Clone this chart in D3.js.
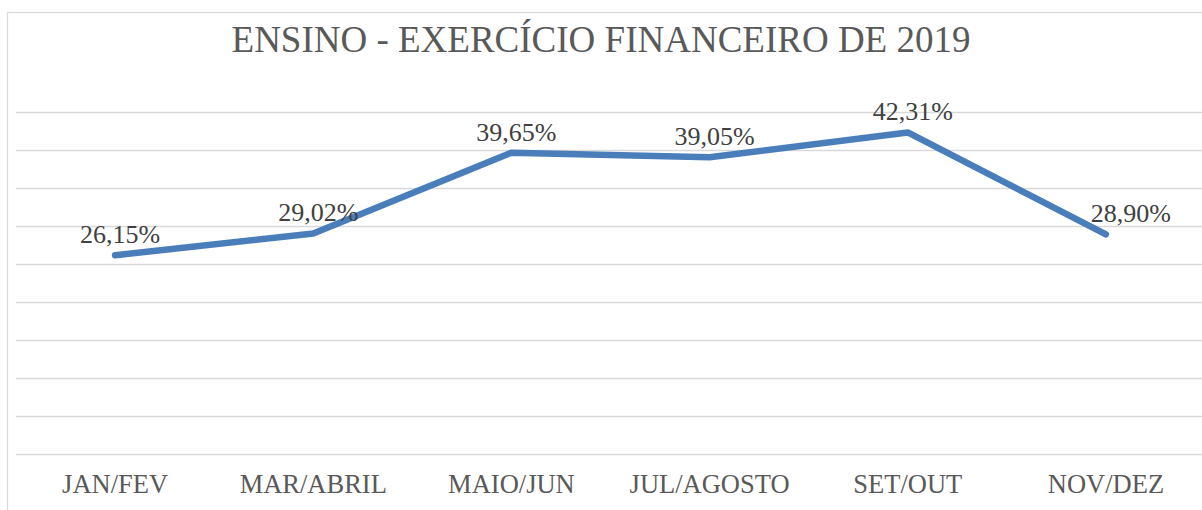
<!DOCTYPE html>
<html>
<head>
<meta charset="utf-8">
<script src="https://cdn.jsdelivr.net/npm/d3@7"></script>
<style>
  html, body { margin: 0; padding: 0; background: #fff; }
  svg { display: block; }
</style>
</head>
<body>
<svg id="chart"></svg>
<script>
/* Ensino – exercício financeiro de 2019, single line chart */

const TITLE      = 'ENSINO - EXERCÍCIO FINANCEIRO DE 2019';
const CATEGORIES = ['JAN/FEV', 'MAR/ABRIL', 'MAIO/JUN', 'JUL/AGOSTO', 'SET/OUT', 'NOV/DEZ'];
const VALUES     = [26.15, 29.02, 39.65, 39.05, 42.31, 28.90];
const Y_TICKS    = [0, 5, 10, 15, 20, 25, 30, 35, 40, 45];

const W = 1202, H = 510;
const FONT = '"Liberation Serif", "Times New Roman", serif';
const LINE_COLOR = '#4a7ebb';
const GRID_COLOR = '#d9d9d9';

const margin = { top: 112, right: -3, bottom: 56, left: 16 };
const iW = W - margin.left - margin.right;
const iH = H - margin.top - margin.bottom;

const svg = d3.select('#chart')
  .attr('width', W)
  .attr('height', H)
  .attr('viewBox', `0 0 ${W} ${H}`);

// chart frame
svg.append('rect')
  .attr('x', 7.5).attr('y', 12.5)
  .attr('width', W + 10).attr('height', H + 10)
  .attr('fill', 'none')
  .attr('stroke', GRID_COLOR)
  .attr('stroke-width', 1.3);

/* ── Title ── */
svg.append('text')
  .attr('x', W / 2)
  .attr('y', 52)
  .attr('text-anchor', 'middle')
  .attr('fill', '#595959')
  .attr('font-family', FONT)
  .attr('font-size', 37)
  .text(TITLE);

const g = svg.append('g')
  .attr('transform', `translate(${margin.left},${margin.top})`);

/* ── Scales ── */
const x = d3.scaleBand()
  .domain(CATEGORIES)
  .range([0, iW]);

const y = d3.scaleLinear()
  .domain([0, d3.max(Y_TICKS)])
  .range([iH, 0]);

/* ── Gridlines ── */
g.append('g')
  .call(d3.axisLeft(y).tickValues(Y_TICKS).tickSize(-iW).tickFormat(''))
  .call(ax => ax.select('.domain').remove())
  .call(ax => ax.selectAll('.tick line')
    .attr('stroke', GRID_COLOR)
    .attr('stroke-width', 1.5));

/* ── X axis labels ── */
g.append('g')
  .attr('transform', `translate(0,${iH})`)
  .call(d3.axisBottom(x).tickSize(0).tickPadding(20))
  .call(ax => ax.select('.domain').remove())
  .call(ax => ax.selectAll('.tick text')
    .attr('fill', '#595959')
    .attr('font-size', 26.5)
    .attr('font-family', FONT));

/* ── Line ── */
const pts = CATEGORIES.map((c, i) => ({ cat: c, value: VALUES[i] }));
const cx = d => x(d.cat) + x.bandwidth() / 2;

g.append('path')
  .datum(pts)
  .attr('fill', 'none')
  .attr('stroke', LINE_COLOR)
  .attr('stroke-width', 6.5)
  .attr('stroke-linejoin', 'round')
  .attr('stroke-linecap', 'round')
  .attr('d', d3.line().x(cx).y(d => y(d.value)));

/* ── Data labels ── */
const fmt = v => v.toFixed(2).replace('.', ',') + '%';

g.selectAll('.data-label')
  .data(pts)
  .join('text')
  .attr('class', 'data-label')
  .attr('text-anchor', 'middle')
  .attr('fill', '#404040')
  .attr('font-family', FONT)
  .attr('font-size', 26)
  .attr('y', d => y(d.value) - 12)
  .text(d => fmt(d.value))
  .attr('x', function(d) {
    // the last label is pushed right, as the spreadsheet does
    const i = CATEGORIES.indexOf(d.cat);
    return cx(d) + (i === CATEGORIES.length - 1 ? 25 : 5);
  });
</script>
</body>
</html>
